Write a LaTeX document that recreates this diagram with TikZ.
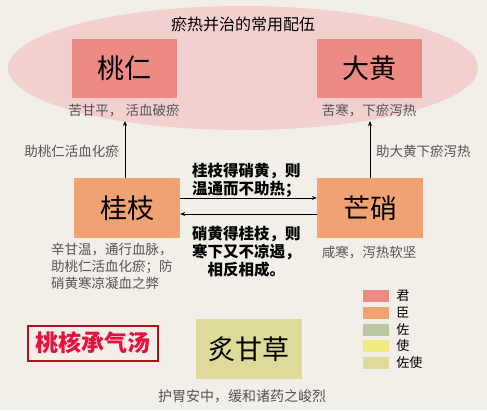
\documentclass[tikz,border=0pt]{standalone}
\usepackage{fontspec}
\setmainfont{Noto Sans CJK SC}
\usetikzlibrary{arrows.meta}
\definecolor{bg}{HTML}{F2EEE8}
\definecolor{ell}{HTML}{F3D0D0}
\definecolor{jun}{HTML}{EE8A84}
\definecolor{chen}{HTML}{F0A272}
\definecolor{zuo}{HTML}{B9C9A5}
\definecolor{shi}{HTML}{F1EA82}
\definecolor{zuoshi}{HTML}{DDDA9A}
\definecolor{graytxt}{HTML}{555555}
\definecolor{redtxt}{HTML}{E8103C}
\definecolor{redbox}{HTML}{B01212}
\tikzset{
  herb/.style={minimum width=106pt, minimum height=60pt, inner sep=0pt, font=\fontsize{27}{30}\selectfont},
  note/.style={inner sep=0pt, text=graytxt, font=\fontsize{13.5}{17}\selectfont},
  mid/.style={inner sep=0pt, text=black, font=\fontsize{15.5}{18}\selectfont\bfseries, align=left},
  conn/.style={-{Stealth[length=5pt,width=4pt]}, line width=0.8pt},
  swatch/.style={minimum width=26pt, minimum height=12pt, inner sep=0pt},
  legtext/.style={inner sep=0pt, anchor=west, font=\fontsize{13}{15}\selectfont}
}
\begin{document}
\begin{tikzpicture}[x=1pt,y=-1pt]
\fill[bg] (0,0) rectangle (487,410);
\useasboundingbox (0,0) rectangle (487,410);
\fill[ell] (243,68) ellipse [x radius=235, y radius=62];
\node[inner sep=0pt, font=\fontsize{16}{18}\selectfont] (title) at (243,24) {瘀热并治的常用配伍};
\node[herb, fill=jun, draw=white!60!jun] (taoren) at (124,68) {桃仁};
\node[herb, fill=jun, draw=white!60!jun] (dahuang) at (369,68) {大黄};
\node[note] (taorenN) at (124,110) {苦甘平， 活血破瘀};
\node[note] (dahuangN) at (369,110) {苦寒，下瘀泻热};
\node[herb, fill=chen] (guizhi) at (127,208) {桂枝};
\node[herb, fill=chen] (mangxiao) at (370,208) {芒硝};
\coordinate (tipL) at (125,121);
\coordinate (tipR) at (370,121);
\draw[conn] (guizhi.north -| tipL) -- (tipL);
\draw[conn] (mangxiao.north -| tipR) -- (tipR);
\node[note, anchor=east] (helpL) at (119,151) {助桃仁活血化瘀};
\node[note, anchor=west] (helpR) at (376,151) {助大黄下瘀泻热};
\draw[conn] ([yshift=-6]mangxiao.west) -- ([yshift=-6]guizhi.east);
\draw[conn] ([yshift=10]guizhi.east) -- ([yshift=10]mangxiao.west);
\node[mid, anchor=north west] (upT) at (192,163) {桂枝得硝黄，则\\温通而不助热；};
\node[mid, anchor=north west, align=center] (loT) at (192,226) {硝黄得桂枝，则\\寒下又不凉遏，\\相反相成。};
\node[note, anchor=north west, align=left] (guizhiN) at (51,243) {辛甘温，通行血脉，\\助桃仁活血化瘀；防\\硝黄寒凉凝血之弊};
\node[note] (mangxiaoN) at (369,252) {咸寒，泻热软坚};
\node[draw=redbox, line width=2pt, inner xsep=5pt, minimum width=130pt, minimum height=35pt, text=redtxt, font=\fontsize{23}{25}\selectfont\bfseries] (fang) at (92.5,343) {桃核承气汤};
\node[herb, fill=zuoshi] (zhigancao) at (249,349) {炙甘草};
\node[note, font=\fontsize{14}{16}\selectfont] (zgcN) at (242,396) {护胃安中，缓和诸药之峻烈};
\node[swatch, fill=jun] (s1) at (376,296) {};
\node[swatch, fill=chen] (s2) at (376,312.5) {};
\node[swatch, fill=zuo] (s3) at (376,329.5) {};
\node[swatch, fill=shi] (s4) at (376,346) {};
\node[swatch, fill=zuoshi] (s5) at (376,363) {};
\node[legtext] (l1) at ([xshift=7]s1.east) {君};
\node[legtext] (l2) at ([xshift=7]s2.east) {臣};
\node[legtext] (l3) at ([xshift=7]s3.east) {佐};
\node[legtext] (l4) at ([xshift=7]s4.east) {使};
\node[legtext] (l5) at ([xshift=7]s5.east) {佐使};
\end{tikzpicture}
\end{document}
